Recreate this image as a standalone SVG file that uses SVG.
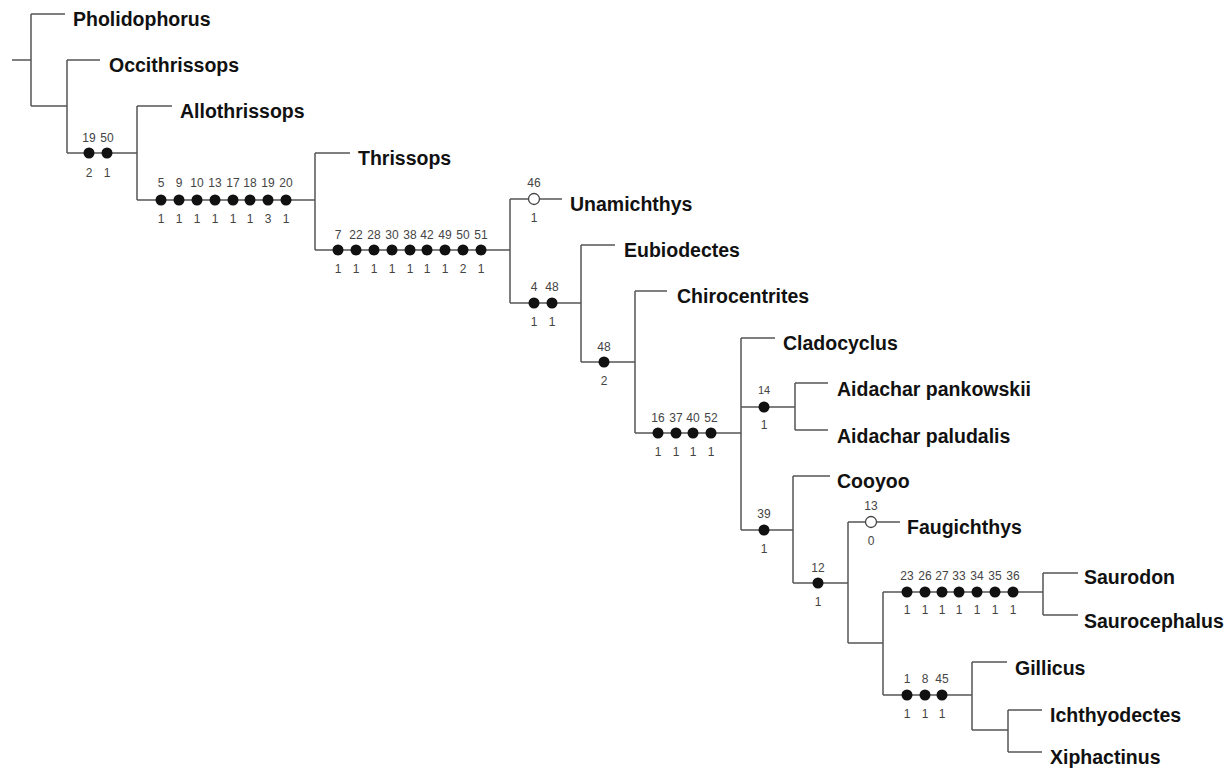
<svg xmlns="http://www.w3.org/2000/svg" width="1232" height="772" viewBox="0 0 1232 772">
<style>
.br{fill:none;stroke:#555;stroke-width:1.5}
.tx{font-family:"Liberation Sans",Arial,sans-serif;font-weight:bold;font-size:19.5px;fill:#111}
.ch{font-family:"Liberation Sans",Arial,sans-serif;font-size:12px;fill:#444;text-anchor:middle}
.d{fill:#111}
.o{fill:#fff;stroke:#444;stroke-width:1.3}
</style>
<rect width="1232" height="772" fill="#fff"/>
<g id="connectors" class="br">
<path d="M12 60H31M31 14V106M31 14H65M31 106H67"/>
<path d="M67 60V153M67 60H100M67 153H137"/>
<path d="M137 106V200M137 106H172M137 200H315"/>
<path d="M315 153V250M315 153H350M315 250H510"/>
<path d="M510 199V303M510 199H562M510 303H581"/>
<path d="M581 245V362M581 245H615M581 362H635"/>
<path d="M635 291V433M635 291H667M635 433H741"/>
<path d="M741 338V530M741 338H775M741 407H795M741 530H793"/>
<path d="M795 383V430M795 383H828M795 430H828"/>
<path d="M793 476V583M793 476H830M793 583H848"/>
<path d="M848 522V643M848 522H900M848 643H883"/>
<path d="M883 592V695M883 592H1043M883 695H972"/>
<path d="M1043 573V615M1043 573H1078M1043 615H1078"/>
<path d="M972 662V730M972 662H1007M972 730H1008"/>
<path d="M1008 710V752M1008 710H1042M1008 752H1042"/>
</g>
<g id="taxa" class="tx">
<g id="t-pholidophorus"><text x="73" y="26">Pholidophorus</text></g>
<g id="t-occithrissops"><text x="109" y="72">Occithrissops</text></g>
<g id="t-allothrissops"><text x="180" y="118">Allothrissops</text></g>
<g id="t-thrissops"><text x="358" y="165">Thrissops</text></g>
<g id="t-unamichthys"><text x="570" y="211">Unamichthys</text></g>
<g id="t-eubiodectes"><text x="624" y="257">Eubiodectes</text></g>
<g id="t-chirocentrites"><text x="677" y="303">Chirocentrites</text></g>
<g id="t-cladocyclus"><text x="783" y="350">Cladocyclus</text></g>
<g id="t-aidachar-pankowskii"><text x="837" y="396">Aidachar pankowskii</text></g>
<g id="t-aidachar-paludalis"><text x="837" y="443">Aidachar paludalis</text></g>
<g id="t-cooyoo"><text x="837" y="488">Cooyoo</text></g>
<g id="t-faugichthys"><text x="907" y="534">Faugichthys</text></g>
<g id="t-saurodon"><text x="1084" y="584">Saurodon</text></g>
<g id="t-saurocephalus"><text x="1084" y="628">Saurocephalus</text></g>
<g id="t-gillicus"><text x="1015" y="675">Gillicus</text></g>
<g id="t-ichthyodectes"><text x="1050" y="722">Ichthyodectes</text></g>
<g id="t-xiphactinus"><text x="1050" y="764">Xiphactinus</text></g>
</g>
<g id="n-occ" class="ch">
<circle class="d" cx="89" cy="153" r="5.5"/><circle class="d" cx="107" cy="153" r="5.5"/>
<text x="89" y="142">19</text><text x="107" y="142">50</text>
<text x="89" y="177">2</text><text x="107" y="177">1</text>
</g>
<g id="n-allo" class="ch">
<circle class="d" cx="161" cy="200" r="5.5"/><circle class="d" cx="179" cy="200" r="5.5"/><circle class="d" cx="197" cy="200" r="5.5"/><circle class="d" cx="215" cy="200" r="5.5"/><circle class="d" cx="233" cy="200" r="5.5"/><circle class="d" cx="250" cy="200" r="5.5"/><circle class="d" cx="268" cy="200" r="5.5"/><circle class="d" cx="286" cy="200" r="5.5"/>
<text x="161" y="187">5</text><text x="179" y="187">9</text><text x="197" y="187">10</text><text x="215" y="187">13</text><text x="233" y="187">17</text><text x="250" y="187">18</text><text x="268" y="187">19</text><text x="286" y="187">20</text>
<text x="161" y="223">1</text><text x="179" y="223">1</text><text x="197" y="223">1</text><text x="215" y="223">1</text><text x="233" y="223">1</text><text x="250" y="223">1</text><text x="268" y="223">3</text><text x="286" y="223">1</text>
</g>
<g id="n-thr" class="ch">
<circle class="d" cx="338" cy="250" r="5.5"/><circle class="d" cx="356" cy="250" r="5.5"/><circle class="d" cx="374" cy="250" r="5.5"/><circle class="d" cx="392" cy="250" r="5.5"/><circle class="d" cx="410" cy="250" r="5.5"/><circle class="d" cx="427" cy="250" r="5.5"/><circle class="d" cx="445" cy="250" r="5.5"/><circle class="d" cx="463" cy="250" r="5.5"/><circle class="d" cx="481" cy="250" r="5.5"/>
<text x="338" y="239">7</text><text x="356" y="239">22</text><text x="374" y="239">28</text><text x="392" y="239">30</text><text x="410" y="239">38</text><text x="427" y="239">42</text><text x="445" y="239">49</text><text x="463" y="239">50</text><text x="481" y="239">51</text>
<text x="338" y="273">1</text><text x="356" y="273">1</text><text x="374" y="273">1</text><text x="392" y="273">1</text><text x="410" y="273">1</text><text x="427" y="273">1</text><text x="445" y="273">1</text><text x="463" y="273">2</text><text x="481" y="273">1</text>
</g>
<g id="n-una" class="ch">
<circle class="o" cx="534" cy="199" r="5.5"/>
<text x="534" y="187">46</text><text x="534" y="222">1</text>
</g>
<g id="n-eub" class="ch">
<circle class="d" cx="534" cy="303" r="5.5"/><circle class="d" cx="552" cy="303" r="5.5"/>
<text x="534" y="291">4</text><text x="552" y="291">48</text>
<text x="534" y="326">1</text><text x="552" y="326">1</text>
</g>
<g id="n-chi" class="ch">
<circle class="d" cx="604" cy="362" r="5.5"/>
<text x="604" y="351">48</text><text x="604" y="385">2</text>
</g>
<g id="n-cla" class="ch">
<circle class="d" cx="658" cy="433" r="5.5"/><circle class="d" cx="676" cy="433" r="5.5"/><circle class="d" cx="693" cy="433" r="5.5"/><circle class="d" cx="711" cy="433" r="5.5"/>
<text x="658" y="422">16</text><text x="676" y="422">37</text><text x="693" y="422">40</text><text x="711" y="422">52</text>
<text x="658" y="456">1</text><text x="676" y="456">1</text><text x="693" y="456">1</text><text x="711" y="456">1</text>
</g>
<g id="n-aid" class="ch">
<circle class="d" cx="764" cy="407" r="5.5"/>
<text x="764" y="394" style="font-size:11px">14</text><text x="764" y="429">1</text>
</g>
<g id="n-coo" class="ch">
<circle class="d" cx="764" cy="530" r="5.5"/>
<text x="764" y="518">39</text><text x="764" y="553">1</text>
</g>
<g id="n-fau-clade" class="ch">
<circle class="d" cx="818" cy="583" r="5.5"/>
<text x="818" y="572">12</text><text x="818" y="606">1</text>
</g>
<g id="n-fau" class="ch">
<circle class="o" cx="871" cy="522" r="5.5"/>
<text x="871" y="510">13</text><text x="871" y="545">0</text>
</g>
<g id="n-sau" class="ch">
<circle class="d" cx="907" cy="592" r="5.5"/><circle class="d" cx="925" cy="592" r="5.5"/><circle class="d" cx="942" cy="592" r="5.5"/><circle class="d" cx="959" cy="592" r="5.5"/><circle class="d" cx="977" cy="592" r="5.5"/><circle class="d" cx="995" cy="592" r="5.5"/><circle class="d" cx="1013" cy="592" r="5.5"/>
<text x="907" y="580">23</text><text x="925" y="580">26</text><text x="942" y="580">27</text><text x="959" y="580">33</text><text x="977" y="580">34</text><text x="995" y="580">35</text><text x="1013" y="580">36</text>
<text x="907" y="614">1</text><text x="925" y="614">1</text><text x="942" y="614">1</text><text x="959" y="614">1</text><text x="977" y="614">1</text><text x="995" y="614">1</text><text x="1013" y="614">1</text>
</g>
<g id="n-ich" class="ch">
<circle class="d" cx="907" cy="695" r="5.5"/><circle class="d" cx="925" cy="695" r="5.5"/><circle class="d" cx="942" cy="695" r="5.5"/>
<text x="907" y="683">1</text><text x="925" y="683">8</text><text x="942" y="683">45</text>
<text x="907" y="718">1</text><text x="925" y="718">1</text><text x="942" y="718">1</text>
</g>
</svg>
